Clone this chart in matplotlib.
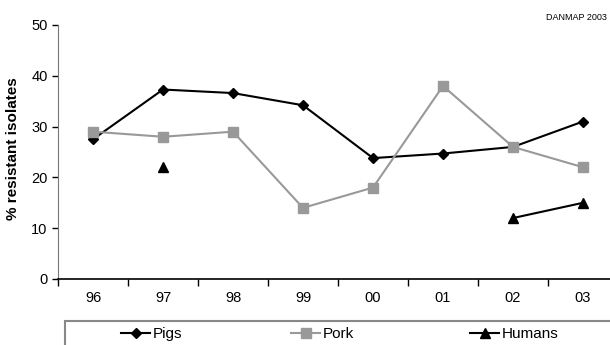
import numpy as np
import matplotlib
matplotlib.use("Agg")
import matplotlib.pyplot as plt
from matplotlib.patches import Rectangle

plt.rcParams['font.family'] = ['Liberation Sans', 'DejaVu Sans']

years = ["96", "97", "98", "99", "00", "01", "02", "03"]
pigs = [27.5, 37.3, 36.6, 34.2, 23.8, 24.7, 26.0, 31.0]
pork = [29.0, 28.0, 29.0, 14.0, 18.0, 38.0, 26.0, 22.0]
humans = [np.nan, 22.0, np.nan, np.nan, np.nan, np.nan, 12.0, 15.0]

W, H = 610, 345
fig = plt.figure(figsize=(W / 100, H / 100), dpi=100)
ax = fig.add_axes([58 / W, 1 - 279 / H, 560 / W, 254 / H])

x = np.arange(len(years))
h1, = ax.plot(x, pigs, color='black', lw=1.5, marker='D', ms=5.5, label='Pigs')
h2, = ax.plot(x, pork, color='#999999', lw=1.5, marker='s', ms=7, label='Pork')
h3, = ax.plot(x, humans, color='black', lw=1.5, marker='^', ms=7, label='Humans')

ax.set_xlim(-0.5, len(years) - 0.5)
ax.set_ylim(0, 50)
ax.set_yticks(range(0, 51, 10))
ax.set_xticks(x)
ax.set_xticklabels(years)
ax.set_xticks(np.arange(-0.5, len(years)), minor=True)
ax.tick_params(axis='x', which='major', length=0, pad=9, labelsize=10.5)
ax.tick_params(axis='x', which='minor', length=5, direction='out', width=1)
ax.tick_params(axis='y', length=4, direction='out', width=1, labelsize=10.5, colors='black')
ax.spines['top'].set_visible(False)
ax.spines['right'].set_visible(False)
ax.spines['left'].set_color('#777777')
ax.spines['bottom'].set_color('black')
ax.spines['bottom'].set_linewidth(1.2)
ax.set_ylabel('% resistant isolates', fontsize=11, fontweight='bold')
ax.yaxis.set_label_coords(-0.067, 0.515)

fig.text(607 / W, 1 - 18 / H, 'DANMAP 2003', fontsize=6.5, ha='right', va='center')

# legend box running off the right and bottom edges
fig.patches.append(Rectangle((65 / W, -0.05), 600 / W, (345 - 321) / H + 0.05,
                             transform=fig.transFigure, fill=False,
                             edgecolor='#888888', lw=1.5))
# one legend entry per slot along the box
for handle, left in zip([h1, h2, h3], [121, 291, 470]):
    fig.legend(handles=[handle], loc='center left',
               bbox_to_anchor=(left / W, 1 - 334 / H),
               fontsize=11, frameon=False,
               handlelength=1.9, handletextpad=0.15,
               borderaxespad=0, borderpad=0)

fig.savefig('out.png', dpi=100)
